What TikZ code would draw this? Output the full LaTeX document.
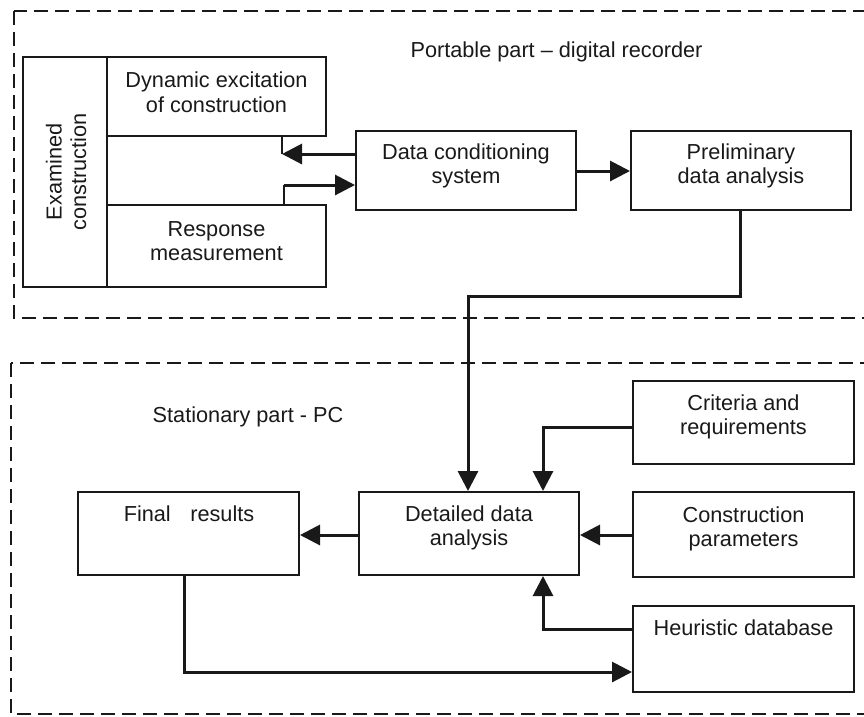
\documentclass[tikz,border=0pt]{standalone}
\usepackage{fontspec}
\setmainfont{Liberation Sans}
\usetikzlibrary{arrows.meta}
\begin{document}
\begin{tikzpicture}[x=1pt,y=-1pt,
  box/.style={draw=black!90, line width=2pt, inner sep=0pt, rectangle},
  txt/.style={font=\fontsize{21.7}{24.5}\selectfont, align=center, inner sep=0pt, text=black!90},
  dashbox/.style={draw=black!90, line width=2.6pt, dash pattern=on 14pt off 7pt},
  conn/.style={draw=black!90, line width=3pt},
  tick/.style={draw=black!90, line width=2.2pt},
  arr/.style={conn, -{Triangle[length=20pt,width=20pt]}}]
\useasboundingbox (0,0) rectangle (864,716);
\clip (0,0) rectangle (864,716);
% dashed regions
\draw[dashbox] (14,11) rectangle (900,318);
\draw[dashbox] (11,363) rectangle (900,714);
% titles
\node[txt] (ttop) at (556.5,52) {Portable part -- digital recorder};
\node[txt] (tbot) at (248,417) {Stationary part - PC};
% portable boxes
\node[box, minimum width=84pt, minimum height=230pt] (ex) at (65,172) {};
\node[txt, rotate=90] (extxt) at (66,172) {Examined\\construction};
\node[box, minimum width=219pt, minimum height=79pt] (dyn) at (216.5,96.5) {};
\node[txt] (dyntxt) at (216.5,92) {Dynamic excitation\\of construction};
\node[box, minimum width=219pt, minimum height=82pt] (resp) at (216.5,246) {};
\node[txt] (resptxt) at (216.5,241) {Response\\measurement};
\node[box, minimum width=220pt, minimum height=79pt] (dcs) at (466,170.5) {};
\node[txt] (dcstxt) at (466,166) {Data conditioning\\system};
\node[box, minimum width=220pt, minimum height=79pt] (pre) at (741,170.5) {};
\node[txt] (pretxt) at (741,166) {Preliminary\\data analysis};
% stationary boxes
\node[box, minimum width=221pt, minimum height=83pt] (fin) at (188.5,533.5) {};
\node[txt] (fintxt) at (189,514) {Final\hspace{0.9em}results};
\node[box, minimum width=220pt, minimum height=83pt] (det) at (469,533.5) {};
\node[txt] (dettxt) at (469,528) {Detailed data\\analysis};
\node[box, minimum width=221pt, minimum height=83pt] (cri) at (743.5,422.5) {};
\node[txt] (critxt) at (743.5,417) {Criteria and\\requirements};
\node[box, minimum width=221pt, minimum height=85pt] (con) at (743.5,534.5) {};
\node[txt] (contxt) at (743.5,529) {Construction\\parameters};
\node[box, minimum width=221pt, minimum height=86pt] (heu) at (743.5,649) {};
\node[txt] (heutxt) at (743.5,628) {Heuristic database};
% bend coordinates
\coordinate (c1) at (282,154);
\coordinate (c2) at (284,185);
\coordinate (b1) at (740,296);
\coordinate (b2) at (468,296);
\coordinate (k1) at (543,427);
\coordinate (k2) at (543,629);
\coordinate (f1) at (184,672);
% portable connectors
\draw[arr] (dcs.west |- c1) -- (c1);
\draw[tick] (c1) -- (c1 |- dyn.south);
\draw[tick] (c2 |- resp.north) -- (c2);
\draw[arr] (c2) -- (dcs.west |- c2);
\draw[arr] (dcs.east |- 0,171) -- (pre.west |- 0,171);
\draw[arr] (b1 |- pre.south) -- (b1) -- (b2) -- (b2 |- det.north);
% stationary connectors
\draw[arr] (det.west |- 0,535) -- (fin.east |- 0,535);
\draw[arr] (cri.west |- k1) -- (k1) -- (k1 |- det.north);
\draw[arr] (con.west |- 0,535) -- (det.east |- 0,535);
\draw[arr] (heu.west |- k2) -- (k2) -- (k2 |- det.south);
\draw[arr] (f1 |- fin.south) -- (f1) -- (heu.west |- f1);
\end{tikzpicture}
\end{document}
